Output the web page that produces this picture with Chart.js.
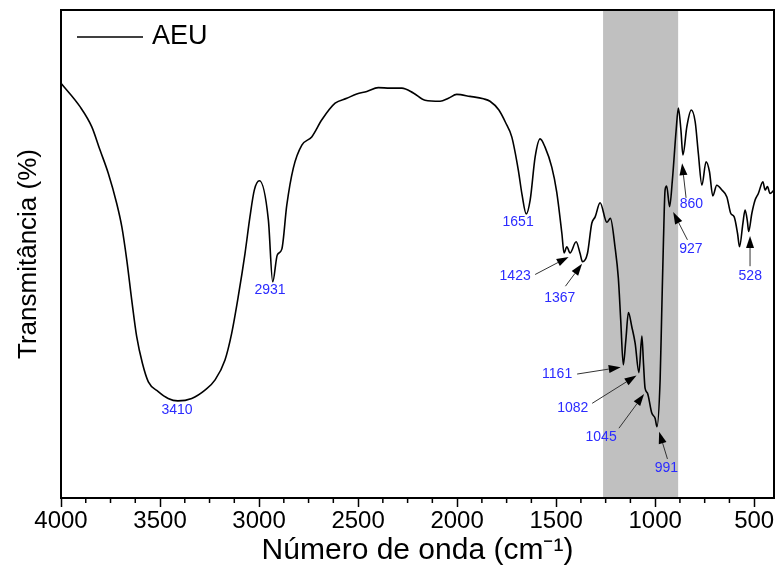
<!DOCTYPE html>
<html>
<head>
<meta charset="utf-8">
<script src="https://cdn.jsdelivr.net/npm/chart.js@4.4.1/dist/chart.umd.min.js"></script>
<style>
  html, body { margin: 0; padding: 0; background: #fff; }
  #wrap { width: 776px; height: 579px; }
</style>
</head>
<body>
<div id="wrap"><canvas id="ftir" width="776" height="579"></canvas></div>
<script>
// FTIR spectrum of AEU
const seriesName = "AEU";

const wavenumbers = [
  4000, 3904, 3845, 3803, 3761, 3719, 3693, 3668, 3643, 3618,
  3589, 3559, 3509, 3459, 3410, 3340, 3273, 3222, 3172, 3138,
  3105, 3071, 3046, 3024, 2998, 2953, 2931, 2908, 2885, 2860,
  2827, 2784, 2734, 2683, 2616, 2557, 2507, 2456, 2398, 2339,
  2279, 2221, 2162, 2086, 2044, 2002, 1935, 1867, 1834, 1789,
  1756, 1724, 1691, 1672, 1651, 1631, 1606, 1581, 1556, 1522,
  1497, 1471, 1460, 1446, 1430, 1399, 1379, 1367, 1342, 1320,
  1303, 1278, 1244, 1226, 1202, 1186, 1174, 1161, 1148, 1135,
  1118, 1101, 1082, 1067, 1059, 1051, 1039, 1017, 1000, 991,
  975, 967, 958, 950, 942, 927, 913, 894, 883, 870,
  860, 840, 818, 798, 782, 764, 743, 726, 709, 689,
  663, 638, 618, 601, 584, 574, 557, 546, 534, 528,
  512, 495, 479, 456, 445, 433, 420, 400
];

const transmittance = [
  85.0, 80.2, 76.1, 71.3, 66.5, 60.4, 55.6, 48.8, 40.6, 33.1,
  27.6, 23.8, 21.8, 20.4, 19.9, 20.4, 22.1, 24.2, 28.3, 33.8,
  41.3, 50.1, 57.6, 63.1, 65.0, 57.0, 44.3, 49.8, 51.0, 60.0,
  67.6, 72.3, 74.0, 77.5, 80.9, 81.9, 82.8, 83.3, 84.1, 84.0,
  84.0, 83.0, 81.5, 81.3, 81.9, 82.7, 82.3, 81.8, 81.3, 79.5,
  77.0, 74.0, 67.2, 62.1, 58.2, 61.1, 69.9, 73.6, 71.9, 67.8,
  62.7, 54.2, 50.2, 51.5, 50.2, 52.5, 50.1, 48.4, 50.1, 56.3,
  57.6, 60.5, 56.5, 57.3, 51.2, 45.1, 36.5, 27.3, 32.4, 38.0,
  35.1, 31.7, 25.7, 33.2, 27.6, 22.5, 21.5, 17.4, 16.3, 14.6,
  24.2, 37.8, 52.9, 63.1, 63.9, 59.7, 65.2, 75.4, 79.9, 75.4,
  70.3, 76.1, 79.5, 77.1, 70.6, 64.1, 68.9, 66.9, 61.9, 64.1,
  63.1, 61.7, 58.3, 57.6, 54.2, 51.5, 56.3, 59.0, 56.6, 54.6,
  58.3, 61.1, 62.4, 64.8, 63.1, 63.8, 62.4, 63.1
];

const xTickValues = [4000, 3500, 3000, 2500, 2000, 1500, 1000, 500];

// shaded region (cm-1)
const bandRange = [1263, 884];

// peak labels: text, label centre, arrow tail, arrow tip (data units)
const peakLabels = ["3410", "2931", "1651", "1423", "1367", "1161", "1082", "1045", "991", "927", "860", "528"];
const labelAt = [[3414, 18.0], [2945, 42.6], [1692, 56.6], [1707, 45.5], [1482, 41.0], [1495, 25.4],
                 [1416, 18.4], [1273, 12.4], [943, 6.1], [820, 50.9], [817, 60.2], [520, 45.4]];
const arrowFrom = [null, null, null, [1606, 45.8], [1453, 43.4], [1394, 25.4],
                   [1318, 19.4], [1183, 14.3], [938, 8.0], [837, 52.9], [844, 61.5], [521, 47.5]];
const arrowTo = [null, null, null, [1437, 49.4], [1369, 48.0], [1174, 26.8],
                 [1094, 25.1], [1056, 21.3], [980, 13.6], [909, 58.6], [864, 68.6], [521, 53.7]];

const fontFam = "'Liberation Sans', Arial, sans-serif";

const bandPlugin = {
  id: "band",
  beforeDatasetsDraw(chart) {
    const { ctx, chartArea, scales } = chart;
    const a = scales.x.getPixelForValue(bandRange[0]);
    const b = scales.x.getPixelForValue(bandRange[1]);
    ctx.save();
    ctx.fillStyle = "#c0c0c0";
    ctx.fillRect(Math.min(a, b), chartArea.top, Math.abs(b - a), chartArea.bottom - chartArea.top);
    ctx.restore();
  }
};

const framePlugin = {
  id: "frame",
  afterDatasetsDraw(chart) {
    const { ctx, chartArea, scales } = chart;
    const { left, right, top, bottom } = chartArea;
    ctx.save();
    // minor ticks every 125 cm-1
    ctx.strokeStyle = "#000";
    ctx.lineWidth = 1.5;
    ctx.beginPath();
    for (let v = 3875; v > 400; v -= 125) {
      if (v % 500 === 0) continue;
      const px = scales.x.getPixelForValue(v);
      ctx.moveTo(px, bottom);
      ctx.lineTo(px, bottom + 5);
    }
    ctx.stroke();
    // box
    ctx.lineWidth = 2;
    ctx.strokeRect(left, top, right - left, bottom - top);
    ctx.restore();
  }
};

const labelPlugin = {
  id: "peaks",
  afterDatasetsDraw(chart) {
    const { ctx, scales } = chart;
    const px = (p) => [scales.x.getPixelForValue(p[0]), scales.y.getPixelForValue(p[1])];
    ctx.save();
    ctx.font = "14px " + fontFam;
    ctx.textAlign = "center";
    ctx.textBaseline = "middle";
    peakLabels.forEach((txt, i) => {
      const [lx, ly] = px(labelAt[i]);
      ctx.fillStyle = "#2b2bff";
      ctx.fillText(txt, lx, ly);
      if (!arrowFrom[i]) return;
      const [x0, y0] = px(arrowFrom[i]);
      const [x1, y1] = px(arrowTo[i]);
      const ang = Math.atan2(y1 - y0, x1 - x0);
      const hl = 12, hw = 4;
      const bx = x1 - hl * Math.cos(ang), by = y1 - hl * Math.sin(ang);
      ctx.strokeStyle = "#333";
      ctx.lineWidth = 1;
      ctx.beginPath();
      ctx.moveTo(x0, y0);
      ctx.lineTo(bx, by);
      ctx.stroke();
      ctx.fillStyle = "#000";
      ctx.beginPath();
      ctx.moveTo(x1, y1);
      ctx.lineTo(bx + hw * Math.sin(ang), by - hw * Math.cos(ang));
      ctx.lineTo(bx - hw * Math.sin(ang), by + hw * Math.cos(ang));
      ctx.closePath();
      ctx.fill();
    });
    // legend
    const { left, top } = chart.chartArea;
    ctx.strokeStyle = "#000";
    ctx.lineWidth = 1.6;
    ctx.beginPath();
    ctx.moveTo(left + 16, top + 27);
    ctx.lineTo(left + 82, top + 27);
    ctx.stroke();
    ctx.fillStyle = "#000";
    ctx.textAlign = "left";
    ctx.font = "27px " + fontFam;
    ctx.fillText(chart.data.datasets[0].label, left + 91, top + 27);
    ctx.restore();
  }
};

const points = wavenumbers.map((w, i) => ({ x: w, y: transmittance[i] }));

new Chart(document.getElementById("ftir"), {
  type: "line",
  data: {
    datasets: [{
      label: seriesName,
      data: points,
      borderColor: "#000",
      borderWidth: 1.6,
      pointRadius: 0,
      cubicInterpolationMode: "monotone",
      fill: false
    }]
  },
  options: {
    responsive: false,
    animation: false,
    layout: { padding: { top: 10, right: 2, left: 0, bottom: 0 } },
    plugins: {
      legend: { display: false },
      tooltip: { enabled: false }
    },
    scales: {
      x: {
        type: "linear",
        min: 400,
        max: 4000,
        reverse: true,
        afterBuildTicks: (scale) => { scale.ticks = xTickValues.map((v) => ({ value: v })); },
        afterFit: (scale) => { scale.height = 81; },
        ticks: {
          font: { family: fontFam, size: 24 },
          color: "#000",
          padding: 0,
          maxRotation: 0,
          autoSkip: false,
          callback: (v) => String(v)
        },
        grid: { display: true, drawOnChartArea: false, drawTicks: true, tickLength: 9, tickColor: "#000", tickWidth: 1.5 },
        border: { display: false },
        title: {
          display: true,
          text: "Número de onda (cm⁻¹)",
          font: { family: fontFam, size: 30 },
          color: "#000",
          padding: { top: 0, bottom: 10 }
        }
      },
      y: {
        min: 0,
        max: 100,
        afterFit: (scale) => { scale.width = 61; },
        ticks: { display: false },
        grid: { display: false },
        border: { display: false },
        title: {
          display: true,
          text: "Transmitância (%)",
          font: { family: fontFam, size: 26 },
          color: "#000",
          padding: { top: 13, bottom: 0 }
        }
      }
    }
  },
  plugins: [bandPlugin, framePlugin, labelPlugin]
});
</script>
</body>
</html>
